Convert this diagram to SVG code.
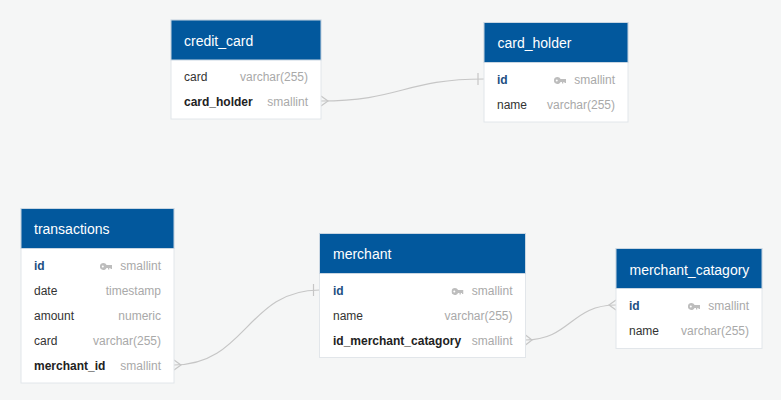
<svg xmlns="http://www.w3.org/2000/svg" width="781" height="400" viewBox="0 0 781 400">
<defs>
<style>
.bg{fill:#f5f6f6}
.tb{fill:#ffffff;stroke:#e2e6ea;stroke-width:1}
.hd{fill:#02589d;stroke:#c9d6e2;stroke-width:1}
.ht{font-family:"Liberation Sans",Arial,sans-serif;font-size:14px;fill:#ffffff}
.fn{font-family:"Liberation Sans",Arial,sans-serif;font-size:12px;fill:#333333}
.fb{font-family:"Liberation Sans",Arial,sans-serif;font-size:12px;fill:#222222;font-weight:bold}
.pk{font-family:"Liberation Sans",Arial,sans-serif;font-size:12px;fill:#1d4f82;font-weight:bold}
.ty{font-family:"Liberation Sans",Arial,sans-serif;font-size:12px;fill:#a9a9a9;text-anchor:end}
.cn{fill:none;stroke:#c6c6c6;stroke-width:1.2}
.key{fill:#bdbdbd}
</style>
<symbol id="keyicon" viewBox="0 0 12 7" width="12" height="7">
<path class="key" d="M3.5,0 A3.5,3.5 0 1 0 6.6,5 L8,5 L8,6.5 L9.3,6.5 L9.3,5 L10.5,5 L10.5,6 L12,6 L12,2 L6.6,2 A3.5,3.5 0 0 0 3.5,0 Z M2.8,2.5 A1,1 0 1 1 2.8,4.5 A1,1 0 1 1 2.8,2.5 Z" fill-rule="evenodd"/>
</symbol>
</defs>
<rect class="bg" x="0" y="0" width="781" height="400"/>

<g id="connectors">
<path class="cn" d="M321,101 C400,101 405,79 484,79"/>
<path class="cn" d="M321,96 L328,101 L321,106"/>
<path class="cn" d="M478,73 L478,85"/>
<path class="cn" d="M174,365 C246,365 247,290 319.5,290"/>
<path class="cn" d="M174,360 L181,365 L174,370"/>
<path class="cn" d="M313.5,284 L313.5,296"/>
<path class="cn" d="M525.5,340 C570,340 571,305 616,305"/>
<path class="cn" d="M525.5,335 L532,340 L525.5,345"/>
<path class="cn" d="M616,300 L609,305 L616,310"/>
</g>

<g id="credit_card">
<rect class="tb" x="171" y="20" width="150" height="99"/>
<rect class="hd" x="171" y="20" width="150" height="40"/>
<text class="ht" x="184" y="45.5">credit_card</text>
<text class="fn" x="184" y="81">card</text>
<text class="ty" x="308" y="81">varchar(255)</text>
<text class="fb" x="184" y="106">card_holder</text>
<text class="ty" x="308" y="106">smallint</text>
</g>

<g id="card_holder">
<rect class="tb" x="484" y="22.5" width="144" height="99.5"/>
<rect class="hd" x="484" y="22.5" width="144" height="40"/>
<text class="ht" x="497.5" y="48">card_holder</text>
<text class="pk" x="497" y="83.5">id</text>
<use href="#keyicon" x="554" y="77"/>
<text class="ty" x="615" y="83.5">smallint</text>
<text class="fn" x="497" y="108.5">name</text>
<text class="ty" x="615" y="108.5">varchar(255)</text>
</g>

<g id="transactions">
<rect class="tb" x="21" y="208.5" width="153" height="174.5"/>
<rect class="hd" x="21" y="208.5" width="153" height="40"/>
<text class="ht" x="34" y="234">transactions</text>
<text class="pk" x="34" y="269.5">id</text>
<use href="#keyicon" x="100" y="263"/>
<text class="ty" x="161" y="269.5">smallint</text>
<text class="fn" x="34" y="294.5">date</text>
<text class="ty" x="161" y="294.5">timestamp</text>
<text class="fn" x="34" y="319.5">amount</text>
<text class="ty" x="161" y="319.5">numeric</text>
<text class="fn" x="34" y="344.5">card</text>
<text class="ty" x="161" y="344.5">varchar(255)</text>
<text class="fb" x="34" y="369.5">merchant_id</text>
<text class="ty" x="161" y="369.5">smallint</text>
</g>

<g id="merchant">
<rect class="tb" x="319.5" y="233.5" width="206" height="124"/>
<rect class="hd" x="319.5" y="233.5" width="206" height="40"/>
<text class="ht" x="333" y="259">merchant</text>
<text class="pk" x="333" y="294.5">id</text>
<use href="#keyicon" x="451.5" y="288"/>
<text class="ty" x="512.5" y="294.5">smallint</text>
<text class="fn" x="333" y="319.5">name</text>
<text class="ty" x="512.5" y="319.5">varchar(255)</text>
<text class="fb" x="333" y="344.5">id_merchant_catagory</text>
<text class="ty" x="512.5" y="344.5">smallint</text>
</g>

<g id="merchant_catagory">
<rect class="tb" x="616" y="248.5" width="146" height="100"/>
<rect class="hd" x="616" y="248.5" width="146" height="40"/>
<text class="ht" x="629.5" y="274.5">merchant_catagory</text>
<text class="pk" x="629" y="309.5">id</text>
<use href="#keyicon" x="688" y="303"/>
<text class="ty" x="749" y="309.5">smallint</text>
<text class="fn" x="629" y="334.5">name</text>
<text class="ty" x="749" y="334.5">varchar(255)</text>
</g>
</svg>
